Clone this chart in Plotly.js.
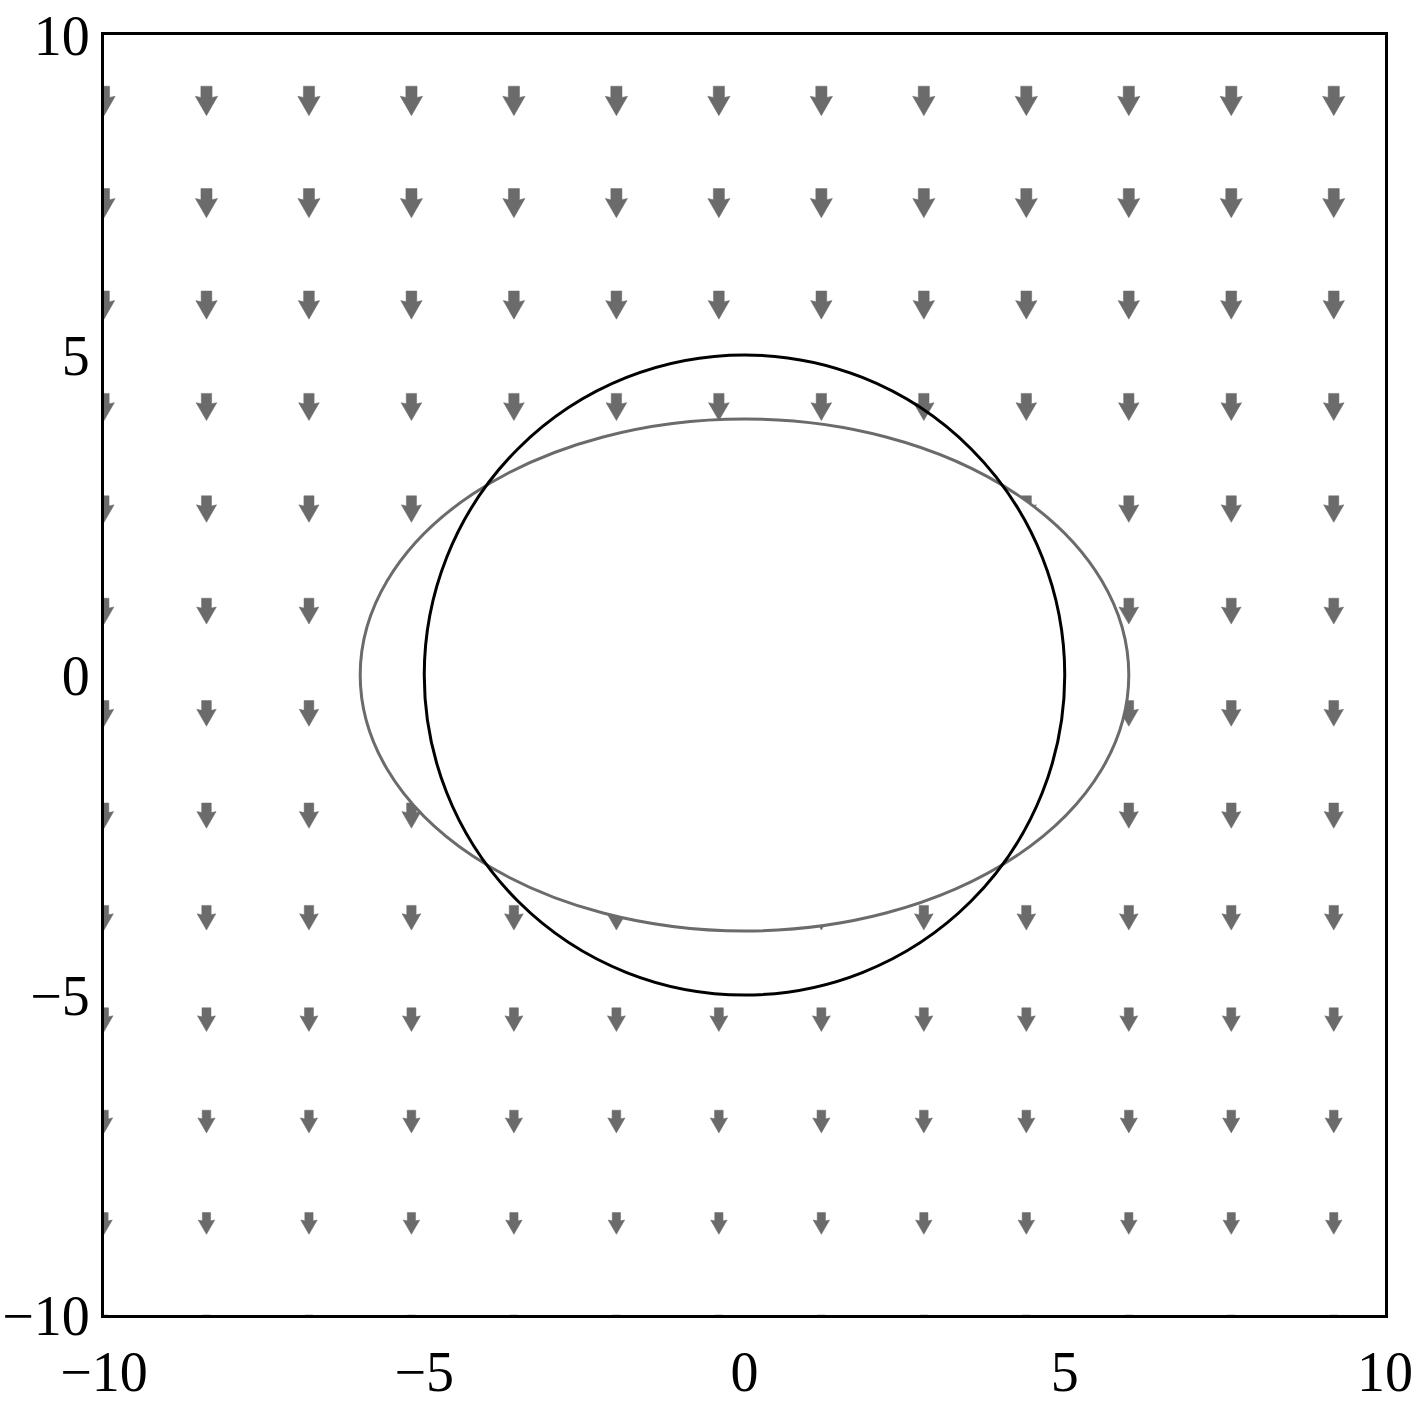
<!DOCTYPE html>
<html lang="en">
<head>
    <meta charset="UTF-8">
    <title>Vector field with circle and ellipse</title>
    <script src="https://cdn.plot.ly/plotly-3.0.1.min.js"></script>
    <style>
        body {
            margin: 0;
            background: white;
        }
        #plot {
            width: 1412px;
            height: 1414px;
        }
    </style>
</head>
<body>
    <div id="plot"></div>

    <script>
        // grid of arrow tails (data units)
        const gridX = [-10, -8.4, -6.8, -5.2, -3.6, -2.0, -0.4, 1.2, 2.8, 4.4, 6.0, 7.6, 9.2];
        const gridY = [-10, -8.4, -6.8, -5.2, -3.6, -2.0, -0.4, 1.2, 2.8, 4.4, 6.0, 7.6, 9.2];
        // downward arrow length for each row of gridY
        const rowLength = [0.33, 0.34, 0.355, 0.37, 0.385, 0.395, 0.40, 0.405, 0.415, 0.425, 0.44, 0.455, 0.46];

        // the two closed curves
        const circleRadius = 5;
        const ellipseA = 6;
        const ellipseB = 4;

        const arrowColor = '#6b6b6b';

        // build filled arrow polygons, one per grid point, separated by nulls
        function arrowPolygons() {
            const xs = [];
            const ys = [];
            gridY.forEach((y0, j) => {
                const L = rowLength[j];
                const sw = 0.19 * L;   // half shaft width
                const hw = 0.38 * L;   // half head width
                const jn = 0.38 * L;   // shaft / head junction
                const bb = 0.34 * L;   // barb corners
                gridX.forEach(x0 => {
                    const px = [-sw, sw, sw, hw, 0, -hw, -sw, -sw];
                    const py = [0, 0, -jn, -bb, -L, -bb, -jn, 0];
                    for (let k = 0; k < px.length; k++) {
                        xs.push(x0 + px[k]);
                        ys.push(y0 + py[k]);
                    }
                    xs.push(null);
                    ys.push(null);
                });
            });
            return { xs, ys };
        }

        const arrows = arrowPolygons();

        const traces = [
            {
                x: arrows.xs,
                y: arrows.ys,
                type: 'scatter',
                mode: 'lines',
                fill: 'toself',
                fillcolor: arrowColor,
                line: { color: arrowColor, width: 0.5 },
                connectgaps: false,
                hoverinfo: 'skip',
                showlegend: false
            }
        ];

        const axisStyle = {
            range: [-10, 10],
            tickvals: [-10, -5, 0, 5, 10],
            showgrid: false,
            zeroline: false,
            showline: true,
            mirror: true,
            linecolor: 'black',
            linewidth: 3,
            ticks: '',
            ticklabeloverflow: 'allow',
            tickfont: { family: 'Liberation Serif', size: 56, color: 'black' }
        };

        const layout = {
            width: 1412,
            height: 1414,
            margin: { l: 104, r: 27, t: 35, b: 99 },
            paper_bgcolor: 'white',
            plot_bgcolor: 'white',
            showlegend: false,
            xaxis: Object.assign({}, axisStyle, { ticklabelstandoff: 6 }),
            yaxis: Object.assign({}, axisStyle, { ticklabelstandoff: 0 }),
            shapes: [
                {
                    type: 'circle',
                    xref: 'x', yref: 'y',
                    x0: -ellipseA, x1: ellipseA,
                    y0: -ellipseB, y1: ellipseB,
                    fillcolor: 'white',
                    line: { color: '#6b6b6b', width: 3 },
                    layer: 'above'
                },
                {
                    type: 'circle',
                    xref: 'x', yref: 'y',
                    x0: -circleRadius, x1: circleRadius,
                    y0: -circleRadius, y1: circleRadius,
                    line: { color: 'black', width: 3 },
                    layer: 'above'
                }
            ]
        };

        Plotly.newPlot('plot', traces, layout, { staticPlot: true, displayModeBar: false });
    </script>
</body>
</html>
